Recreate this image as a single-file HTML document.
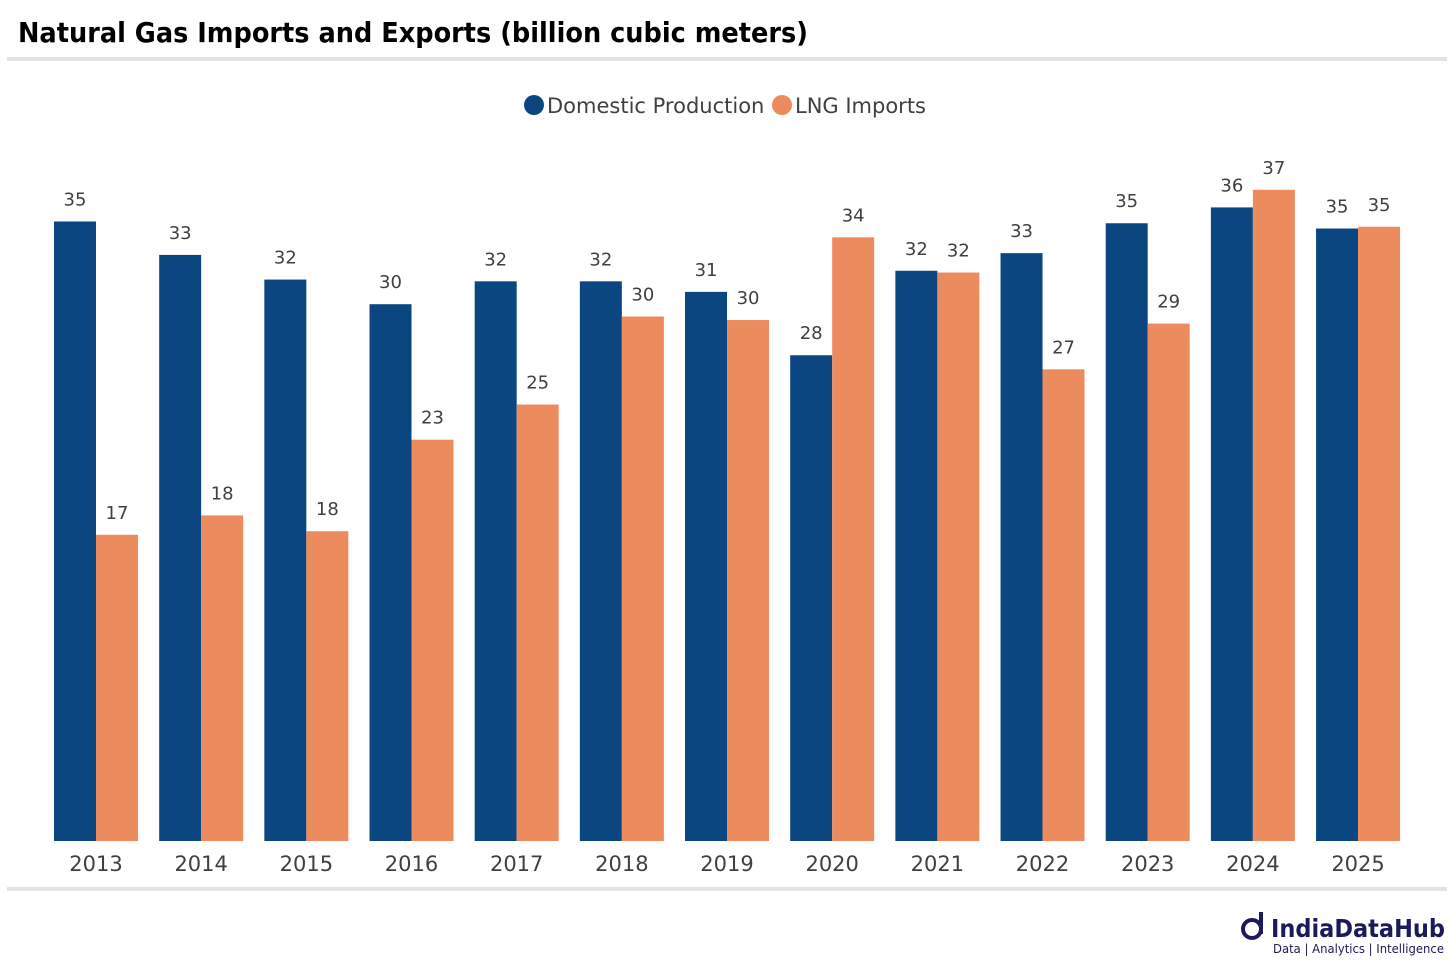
<!DOCTYPE html>
<html><head><meta charset="utf-8"><style>
body{margin:0;background:#fff;width:1456px;height:968px;overflow:hidden;font-family:"DejaVu Sans","Liberation Sans",sans-serif}
</style></head><body>
<svg width="1456" height="968">
<text x="18" y="42" font-size="28" font-weight="bold" fill="#000" textLength="790" lengthAdjust="spacingAndGlyphs">Natural Gas Imports and Exports (billion cubic meters)</text>
<rect x="7" y="57" width="1440" height="4" fill="#e3e3e3"/>
<rect x="7" y="887" width="1440" height="4" fill="#e3e3e3"/>
<g>
<g><circle cx="534" cy="105" r="10" fill="#0c4680"/><text x="547" y="113" font-size="21" fill="#404040">Domestic Production</text></g>
<g><circle cx="782" cy="105" r="10" fill="#ec8b5e"/><text x="795" y="113" font-size="21" fill="#404040">LNG Imports</text></g>
</g>
<g id="plot"></g>
<g>
<circle cx="1252" cy="929" r="9" fill="none" stroke="#1d1a5c" stroke-width="4"/>
<rect x="1259" y="912" width="4" height="22" fill="#1d1a5c"/>
<text x="1271" y="937" font-size="25" font-weight="bold" fill="#1d1a5c" textLength="174" lengthAdjust="spacingAndGlyphs">IndiaDataHub</text>
<text x="1273" y="953" font-size="12" fill="#1d1a5c" textLength="171" lengthAdjust="spacingAndGlyphs">Data | Analytics | Intelligence</text>
</g>
</svg>
<script>
const years=["2013","2014","2015","2016","2017","2018","2019","2020","2021","2022","2023","2024","2025"];
const domestic=[35.2,33.3,31.9,30.5,31.8,31.8,31.2,27.6,32.4,33.4,35.1,36.0,34.8];
const lng=[17.4,18.5,17.6,22.8,24.8,29.8,29.6,34.3,32.3,26.8,29.4,37.0,34.9];
const domesticLabels=["35","33","32","30","32","32","31","28","32","33","35","36","35"];
const lngLabels=["17","18","18","23","25","30","30","34","32","27","29","37","35"];
const NS="http://www.w3.org/2000/svg";
const plot=document.getElementById('plot');
const base=841,pxPer=17.6,x0=96,step=105.17,bw=42;
const y=v=>base-v*pxPer;
const xc=i=>x0+i*step;
function mk(tag,attrs){const e=document.createElementNS(NS,tag);for(const k in attrs)e.setAttribute(k,attrs[k]);plot.appendChild(e);return e;}
years.forEach((yr,i)=>{
  const d=mk('rect',{x:xc(i)-bw,y:y(domestic[i]),width:bw,height:base-y(domestic[i]),fill:'#0c4680'});
  
  
  const l=mk('rect',{x:xc(i),y:y(lng[i]),width:bw,height:base-y(lng[i]),fill:'#ec8b5e'});
  
  
  const dt=mk('text',{x:xc(i)-bw/2,y:y(domestic[i])-16,'font-size':18,fill:'#404040','text-anchor':'middle'});
  dt.textContent=domesticLabels[i];
  
  
  const lt=mk('text',{x:xc(i)+bw/2,y:y(lng[i])-16,'font-size':18,fill:'#404040','text-anchor':'middle'});
  lt.textContent=lngLabels[i];
  
  
  const xt=mk('text',{x:xc(i),y:871,'font-size':21,fill:'#404040','text-anchor':'middle'});
  xt.textContent=yr;
  
  
});
</script>
</body></html>
